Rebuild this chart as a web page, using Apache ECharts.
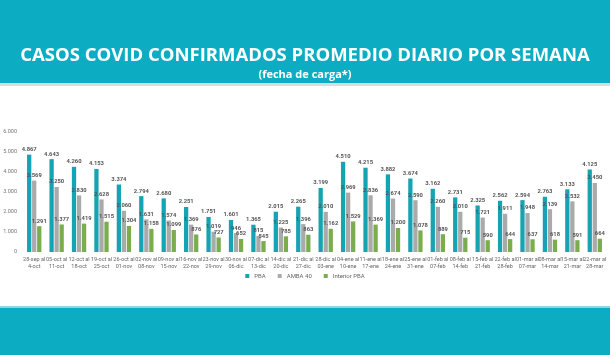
<!DOCTYPE html>
<html><head><meta charset="utf-8">
<script src="https://cdn.jsdelivr.net/npm/echarts@6/dist/echarts.min.js"></script>
<style>html,body{margin:0;padding:0;background:#fff}#c{width:610px;height:355px}</style>
</head><body><div id="c"></div>
<script>
const categories = ["28-sep al\n4-oct","05-oct al\n11-oct","12-oct al\n18-oct","19-oct al\n25-oct","26-oct al\n01-nov","02-nov al\n08-nov","09-nov al\n15-nov","16-nov al\n22-nov","23-nov al\n29-nov","30-nov al\n06-dic","07-dic al\n13-dic","14-dic al\n20-dic","21-dic al\n27-dic","28-dic al\n03-ene","04-ene al\n10-ene","11-ene al\n17-ene","18-ene al\n24-ene","25-ene al\n31-ene","01-feb al\n07-feb","08-feb al\n14-feb","15-feb al\n21-feb","22-feb al\n28-feb","01-mar al\n07-mar","08-mar al\n14-mar","15-mar al\n21-mar","22-mar al\n28-mar"];
const pba = [4867,4643,4260,4153,3374,2794,2680,2251,1751,1601,1365,2015,2265,3199,4510,4215,3882,3674,3162,2731,2325,2562,2594,2763,3133,4125];
const amba40 = [3569,3250,2830,2628,2060,1631,1574,1369,1019,946,815,1225,1396,2010,2969,2836,2674,2590,2260,2010,1721,1911,1948,2139,2532,3450];
const interior = [1291,1377,1419,1515,1304,1158,1099,876,727,652,545,785,863,1162,1529,1369,1200,1078,889,715,590,644,637,618,591,664];
const yTicks = [0,1000,2000,3000,4000,5000,6000];

const fmt = v => String(v).replace(/\B(?=(\d{3})+(?!\d))/g, '.');
const chart = echarts.init(document.getElementById('c'), null, {renderer:'canvas'});
const lbl = {show:true, position:'top', distance:2, fontSize:5.8, color:'#555', fontWeight:'bold', fontFamily:'Roboto', formatter:p=>fmt(p.value)};
chart.setOption({
  animation:false,
  backgroundColor:'#fff',
  graphic:[
    {type:'rect', shape:{x:0,y:0,width:610,height:83}, style:{fill:'#0cadc3'}, z:-10},
    {type:'rect', shape:{x:0,y:83,width:610,height:3}, style:{fill:'#d8dcdc'}, z:-10},
    {type:'rect', shape:{x:0,y:308,width:610,height:47}, style:{fill:'#0cadc3'}, z:-10},
    {type:'rect', shape:{x:0,y:306,width:610,height:2}, style:{fill:'#8fd6e0'}, z:-10}
  ],
  title:[
    {text:'CASOS COVID CONFIRMADOS PROMEDIO DIARIO POR SEMANA', left:'center', top:41,
     textStyle:{color:'#fff', fontSize:18.5, fontWeight:'bold', fontFamily:'Open Sans'}},
    {text:'(fecha de carga*)', left:'center', top:64,
     textStyle:{color:'#fff', fontSize:11, fontWeight:'bold', fontFamily:'Open Sans'}}
  ],
  legend:{bottom:71, left:'center', itemWidth:4, itemHeight:4, itemGap:12, icon:'rect',
    textStyle:{fontSize:6, color:'#666', fontFamily:'Roboto'}},
  grid:{left:23, right:4, top:132, bottom:103, containLabel:false},
  xAxis:{type:'category', data:categories,
    axisLine:{show:false}, axisTick:{show:false},
    axisLabel:{interval:0, fontSize:5.5, color:'#666', lineHeight:7, margin:4, fontFamily:'Roboto'}},
  yAxis:{type:'value', min:0, max:6000, interval:1000, splitLine:{show:false},
    axisLine:{show:false}, axisTick:{show:false},
    axisLabel:{fontSize:5.5, color:'#777', margin:6, fontFamily:'Roboto', formatter:v=>fmt(v)}},
  series:[
    {name:'PBA', type:'bar', data:pba, itemStyle:{color:'#16a3b2'}, barGap:'18%', barCategoryGap:'36%', label:lbl},
    {name:'AMBA 40', type:'bar', data:amba40, itemStyle:{color:'#aaaaaa'}, label:lbl},
    {name:'Interior PBA', type:'bar', data:interior, itemStyle:{color:'#7aae4c'}, label:lbl}
  ]
});
</script></body></html>
